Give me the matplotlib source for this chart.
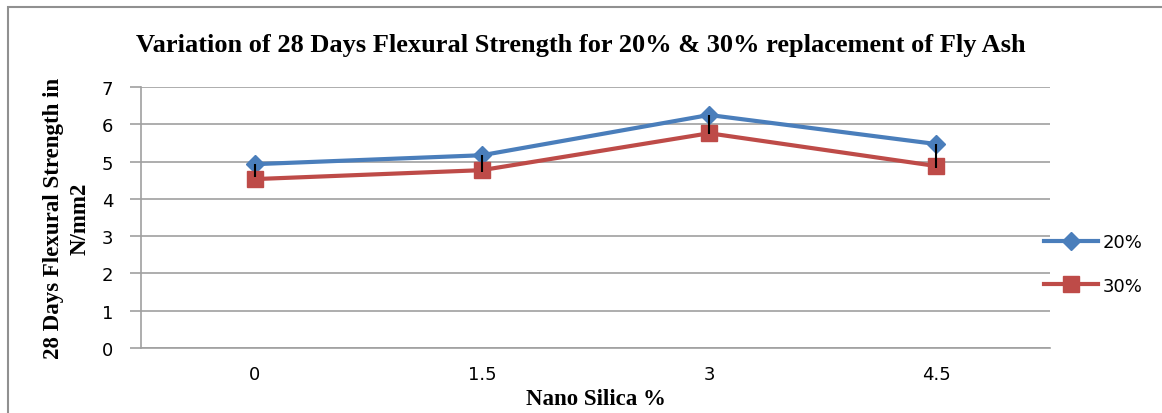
import matplotlib.pyplot as plt
from matplotlib.patches import Rectangle

nano_silica = ['0', '1.5', '3', '4.5']
fly_ash_20 = [4.93, 5.17, 6.25, 5.47]
fly_ash_30 = [4.53, 4.77, 5.76, 4.88]
err_20_low = [0.35, 0.45, 0.5, 0.65]

fig = plt.figure(figsize=(11.62, 4.14), dpi=100)
ax = fig.add_axes([0.1213, 0.157, 0.7823, 0.6304])

x = list(range(len(nano_silica)))
blue = '#4A7EBB'
red = '#BE4B48'

ax.plot(x, fly_ash_20, color=blue, lw=3, marker='D', ms=9, label='20%', zorder=3)
ax.plot(x, fly_ash_30, color=red, lw=3, marker='s', ms=12, label='30%', zorder=3)
ax.errorbar(x, fly_ash_20, yerr=[err_20_low, [0] * len(x)], fmt='none',
            ecolor='black', elinewidth=1.5, capsize=0, zorder=4)

ax.set_xlim(-0.5, 3.5)
ax.set_ylim(0, 7)
ax.set_xticks(x)
ax.set_xticklabels(nano_silica)
ax.set_yticks(range(8))
ax.grid(axis='y', color='#a0a0a0', lw=1.2)
ax.set_axisbelow(True)
for s in ['top', 'right']:
    ax.spines[s].set_visible(False)
for s in ['left', 'bottom']:
    ax.spines[s].set_color('#a0a0a0')
    ax.spines[s].set_linewidth(1.2)
ax.tick_params(axis='x', length=0, labelsize=13, pad=12)
ax.tick_params(axis='y', length=8, color='#a0a0a0', width=1.2, labelsize=13, pad=12)

ax.set_xlabel('Nano Silica %', family='Liberation Serif', weight='bold', fontsize=16.5, labelpad=4)
ax.set_ylabel('28 Days Flexural Strength in\nN/mm2', family='Liberation Serif', weight='bold',
              fontsize=16.5, linespacing=1.35, labelpad=8)
fig.text(0.5, 0.89, 'Variation of 28 Days Flexural Strength for 20% & 30% replacement of Fly Ash',
         ha='center', va='center', family='Liberation Serif', weight='bold', fontsize=19)

leg = ax.legend(loc='center left', bbox_to_anchor=(0.975, 0.322), frameon=False,
                fontsize=13, handlelength=3.0, labelspacing=1.4, handletextpad=0.3)

fig.patches.append(Rectangle((8 / 1162, -0.05), 1.1, 1 - 8 / 414 + 0.05,
                             transform=fig.transFigure, fill=False,
                             edgecolor='#909090', lw=1.5))

fig.savefig('out.png', dpi=100)
